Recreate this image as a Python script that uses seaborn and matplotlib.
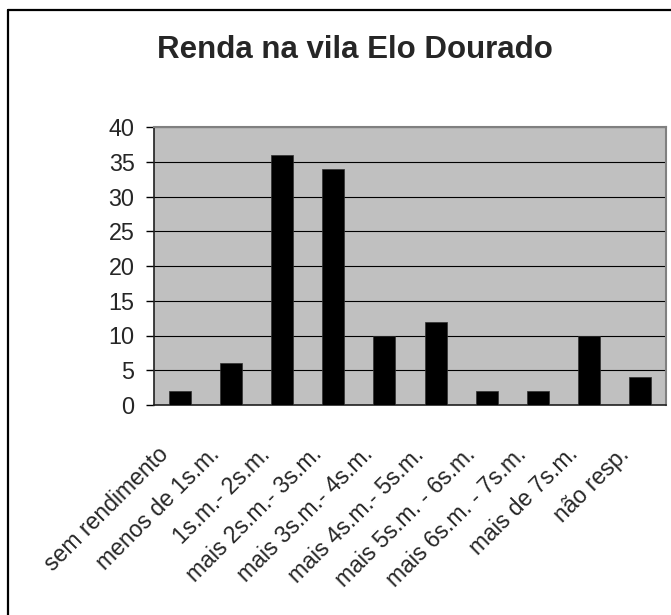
import pandas as pd
import seaborn as sns
import matplotlib.pyplot as plt
from matplotlib.lines import Line2D
from matplotlib.transforms import ScaledTranslation

categorias = ['sem rendimento', 'menos de 1s.m.', '1s.m.- 2s.m.', 'mais 2s.m.- 3s.m.',
              'mais 3s.m.- 4s.m.', 'mais 4s.m.- 5s.m.', 'mais 5s.m. - 6s.m.',
              'mais 6s.m. - 7s.m.', 'mais de 7s.m.', 'não resp.']
valores = [2, 6, 36, 34, 10, 12, 2, 2, 10, 4]
yticks = [0, 5, 10, 15, 20, 25, 30, 35, 40]

data = pd.DataFrame({'faixa': categorias, 'n': valores})

sns.set_style('white')
plt.rcParams['font.family'] = ['Liberation Sans', 'DejaVu Sans']

fig = plt.figure(figsize=(6.71, 6.15), dpi=100)
ax = fig.add_axes([154 / 671, 1 - 405 / 615, 512 / 671, 278 / 615])
ax.set_facecolor('#C0C0C0')

sns.barplot(data=data, x='faixa', y='n', color='black', width=0.43,
            edgecolor='#303030', linewidth=0.5, saturation=1, ax=ax, zorder=3)

ax.set_ylim(0, 40)
ax.set_xlim(-0.5, len(categorias) - 0.5)
ax.set_yticks(yticks)
ax.set_yticklabels([str(v) for v in yticks], fontsize=16.8)
ax.yaxis.grid(True, color='black', linewidth=0.8, zorder=1)
ax.set_axisbelow(True)
ax.set_xlabel('')
ax.set_ylabel('')

# ticks between categories, labels at centres
ax.set_xticks([i - 0.5 for i in range(len(categorias) + 1)], minor=True)
ax.tick_params(axis='x', which='minor', length=7, width=1, color='black', direction='out')
ax.tick_params(axis='x', which='major', length=0)
ax.tick_params(axis='y', length=6, width=1, color='black', direction='out', pad=8, left=True)

ax.set_xticks(range(len(categorias)))
ax.set_xticklabels(categorias, fontsize=16.6, rotation=45, ha='right', va='center',
                   rotation_mode='anchor')
off = ScaledTranslation(-15 / 100, -41 / 100, fig.dpi_scale_trans)
for lab in ax.get_xticklabels():
    lab.set_transform(lab.get_transform() + off)

for s in ['top', 'right']:
    ax.spines[s].set_color('#808080')
    ax.spines[s].set_linewidth(1.5)
for s in ['left', 'bottom']:
    ax.spines[s].set_color('#202020')
    ax.spines[s].set_linewidth(1.2)

fig.text(355 / 671, 1 - 50 / 615, 'Renda na vila Elo Dourado', fontsize=22.5,
         fontweight='bold', ha='center', va='center')

# chart border (left and top only, the picture is cropped)
fig.add_artist(Line2D([8 / 671, 8 / 671], [0, 1 - 9.5 / 615], color='black', linewidth=1.6,
                      transform=fig.transFigure))
fig.add_artist(Line2D([8 / 671, 1], [1 - 9.5 / 615, 1 - 9.5 / 615], color='black', linewidth=1.6,
                      transform=fig.transFigure))

plt.savefig('out.png', dpi=100)
